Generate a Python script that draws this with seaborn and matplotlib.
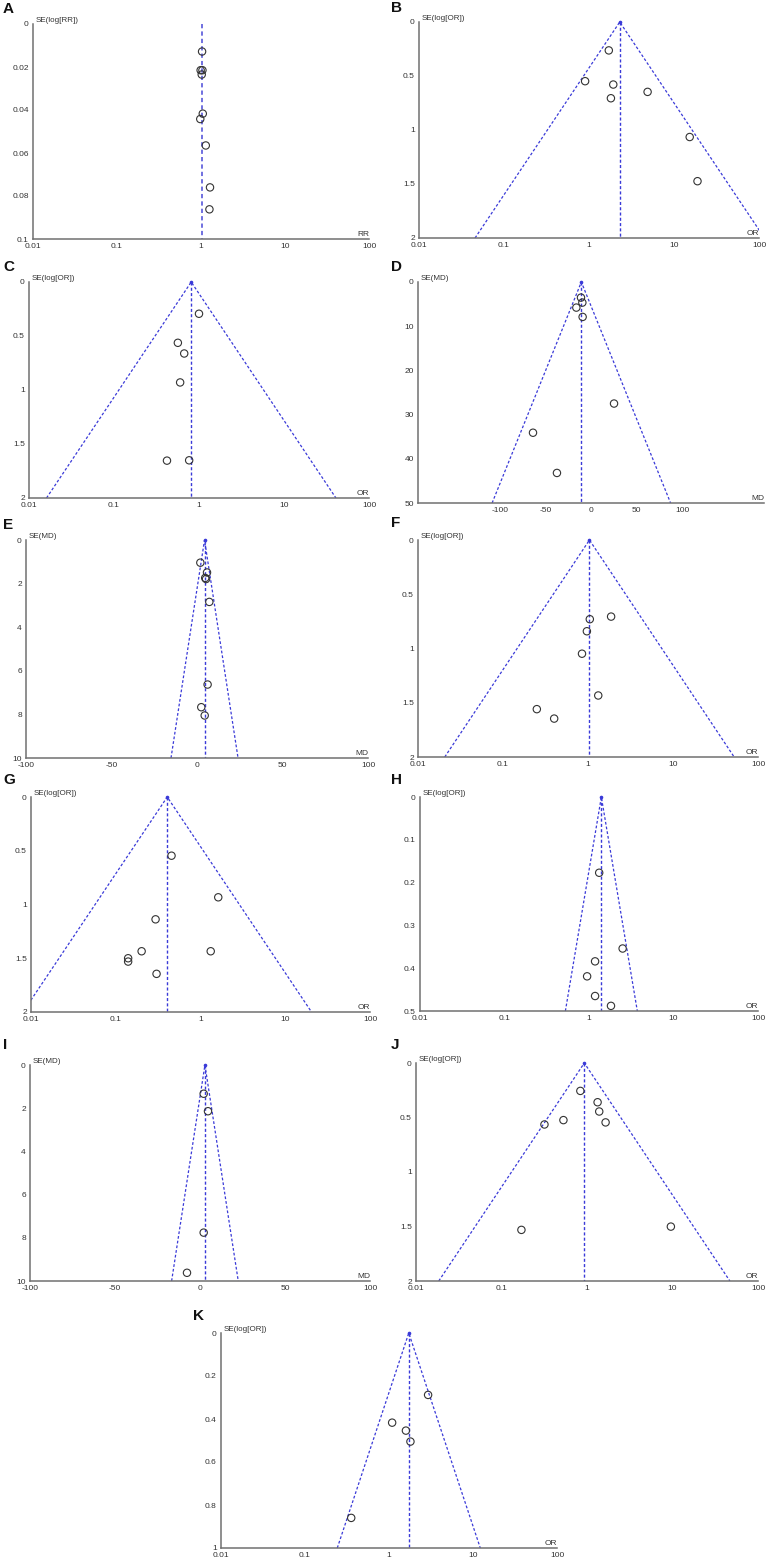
import numpy as np
import matplotlib
matplotlib.use("Agg")
import matplotlib.pyplot as plt
import pandas as pd
import seaborn as sns
from matplotlib.ticker import FixedLocator, FixedFormatter

# ---- data (effect, standard error) ----
a_eff = [1.03, 0.99, 1.04, 1.02, 1.05, 0.98, 1.14, 1.28, 1.26]
a_se = [0.0128, 0.0215, 0.0215, 0.0235, 0.0417, 0.0442, 0.0565, 0.076, 0.0862]
a_pooled = 1.03

b_eff = [1.71, 0.90, 1.93, 1.81, 4.89, 15.3, 18.9]
b_se = [0.263, 0.548, 0.579, 0.706, 0.647, 1.065, 1.474]
b_pooled = 2.30

c_eff = [1.00, 0.564, 0.67, 0.60, 0.42, 0.766]
c_se = [0.294, 0.563, 0.662, 0.930, 1.654, 1.651]
c_pooled = 0.81

d_eff = [-11.0, -9.5, -16.1, -9.2, 25.3, -63.7, -37.4]
d_se = [3.53, 4.66, 5.79, 7.9, 27.5, 34.1, 43.2]
d_pooled = -10.6

e_eff = [1.95, 5.85, 4.8, 5.3, 7.2, 6.2, 2.5, 4.5]
e_se = [1.04, 1.49, 1.74, 1.79, 2.84, 6.63, 7.67, 8.05]
e_pooled = 4.4

f_eff = [1.05, 1.87, 0.97, 0.85, 1.32, 0.25, 0.40]
f_se = [0.730, 0.706, 0.841, 1.048, 1.433, 1.559, 1.646]
f_pooled = 1.04

g_eff = [0.455, 1.62, 0.295, 0.202, 1.32, 0.140, 0.140, 0.303]
g_se = [0.546, 0.933, 1.138, 1.435, 1.435, 1.500, 1.531, 1.645]
g_pooled = 0.405

h_eff = [1.32, 2.50, 1.18, 0.95, 1.18, 1.82]
h_se = [0.177, 0.354, 0.384, 0.419, 0.465, 0.488]
h_pooled = 1.40

i_eff = [2.16, 4.7, 2.16, -7.65]
i_se = [1.33, 2.14, 7.76, 9.62]
i_pooled = 2.9

j_eff = [0.836, 1.33, 1.39, 1.65, 0.53, 0.318, 0.171, 9.57]
j_se = [0.256, 0.360, 0.445, 0.545, 0.524, 0.564, 1.531, 1.501]
j_pooled = 0.93

k_eff = [2.92, 1.09, 1.59, 1.80, 0.355]
k_se = [0.288, 0.417, 0.454, 0.505, 0.860]
k_pooled = 1.72

log_ticks = [0.01, 0.1, 1, 10, 100]
log_labels = ["0.01", "0.1", "1", "10", "100"]

BLUE = "#3a3ad8"
AXC = "#707070"
TXT = "#333333"

sns.set_style("white")
plt.rcParams["font.family"] = ["Liberation Sans", "DejaVu Sans"]
fig = plt.figure(figsize=(7.67, 15.6), dpi=100)
W, H = 767.0, 1560.0


def make_ax(x0, x1, y0, y1):
    return fig.add_axes([x0 / W, 1 - y1 / H, (x1 - x0) / W, (y1 - y0) / H])


def funnel(ax, letter, lx, ly, eff, se, pooled, ymax, yticks, ylab, xlab,
           ratio=True, xlim=None, xticks=None, draw_funnel=True, vcolor=BLUE, vlw=1.0):
    df = pd.DataFrame({"eff": eff, "se": se})
    if ratio:
        ax.set_xscale("log")
        ax.set_xlim(0.01, 100)
        lo = pooled * np.exp(-1.96 * ymax)
        hi = pooled * np.exp(1.96 * ymax)
    else:
        ax.set_xlim(*xlim)
        lo = pooled - 1.96 * ymax
        hi = pooled + 1.96 * ymax
    ax.set_ylim(ymax, 0)
    if draw_funnel:
        ax.plot([lo, pooled, hi], [ymax, 0, ymax], ls=(0, (2.2, 1.6)), color=BLUE, lw=0.9, zorder=2)
        ax.plot([pooled], [0], marker="o", ms=1.6, color=BLUE, zorder=3, clip_on=False)
    ax.plot([pooled, pooled], [0, ymax], ls=(0, (2.2, 1.6)), color=vcolor, lw=vlw, zorder=2)
    sns.scatterplot(data=df, x="eff", y="se", ax=ax, marker="o", s=28,
                    facecolor="none", edgecolor="#333333", linewidth=0.8, zorder=4)
    # axes styling (RevMan look)
    for side in ("top", "right"):
        ax.spines[side].set_visible(False)
    for side in ("left", "bottom"):
        ax.spines[side].set_color(AXC)
        ax.spines[side].set_linewidth(1.1)
    ax.yaxis.set_major_locator(FixedLocator(yticks))
    ax.yaxis.set_major_formatter(FixedFormatter([f"{t:g}" for t in yticks]))
    if ratio:
        ax.xaxis.set_major_locator(FixedLocator(log_ticks))
        ax.xaxis.set_major_formatter(FixedFormatter(log_labels))
        ax.xaxis.set_minor_locator(FixedLocator([]))
    else:
        ax.xaxis.set_major_locator(FixedLocator(xticks))
        ax.xaxis.set_major_formatter(FixedFormatter([f"{t:g}" for t in xticks]))
    ax.tick_params(axis="both", which="major", direction="inout", length=4, width=0.8,
                   color=AXC, labelsize=6, labelcolor=TXT, pad=1)
    ax.set_xlabel("")
    ax.set_ylabel("")
    ax.text(0.008, 1.0, ylab, transform=ax.transAxes, fontsize=5.8, color=TXT,
            ha="left", va="bottom")
    ax.text(1.0, 0.006, xlab, transform=ax.transAxes, fontsize=6, color=TXT,
            ha="right", va="bottom")
    fig.text(lx / W, 1 - ly / H, letter, fontsize=11, fontweight="bold",
             color="#111111", ha="left", va="center")


ax = make_ax(33, 369, 24, 239)
funnel(ax, "A", 3, 9, a_eff, a_se, a_pooled, 0.1, [0, 0.02, 0.04, 0.06, 0.08, 0.1],
       "SE(log[RR])", "RR", draw_funnel=False, vcolor="#7070e0", vlw=1.4)

ax = make_ax(419, 759, 22, 238)
funnel(ax, "B", 391, 8, b_eff, b_se, b_pooled, 2, [0, 0.5, 1, 1.5, 2], "SE(log[OR])", "OR")

ax = make_ax(29, 369, 282, 498)
funnel(ax, "C", 3, 267, c_eff, c_se, c_pooled, 2, [0, 0.5, 1, 1.5, 2], "SE(log[OR])", "OR")

ax = make_ax(418, 764, 282, 503)
funnel(ax, "D", 391, 267, d_eff, d_se, d_pooled, 50, [0, 10, 20, 30, 40, 50], "SE(MD)", "MD",
       ratio=False, xlim=(-190, 190), xticks=[-100, -50, 0, 50, 100])

ax = make_ax(26, 368, 540, 758)
funnel(ax, "E", 3, 525, e_eff, e_se, e_pooled, 10, [0, 2, 4, 6, 8, 10], "SE(MD)", "MD",
       ratio=False, xlim=(-100, 100), xticks=[-100, -50, 0, 50, 100])

ax = make_ax(418, 758, 540, 757)
funnel(ax, "F", 391, 523, f_eff, f_se, f_pooled, 2, [0, 0.5, 1, 1.5, 2], "SE(log[OR])", "OR")

ax = make_ax(31, 370, 797, 1012)
funnel(ax, "G", 3, 780, g_eff, g_se, g_pooled, 2, [0, 0.5, 1, 1.5, 2], "SE(log[OR])", "OR")

ax = make_ax(420, 758, 797, 1011)
funnel(ax, "H", 391, 780, h_eff, h_se, h_pooled, 0.5, [0, 0.1, 0.2, 0.3, 0.4, 0.5],
       "SE(log[OR])", "OR")

ax = make_ax(30, 370, 1065, 1281)
funnel(ax, "I", 3, 1045, i_eff, i_se, i_pooled, 10, [0, 2, 4, 6, 8, 10], "SE(MD)", "MD",
       ratio=False, xlim=(-100, 100), xticks=[-100, -50, 0, 50, 100])

ax = make_ax(416, 758, 1063, 1281)
funnel(ax, "J", 391, 1045, j_eff, j_se, j_pooled, 2, [0, 0.5, 1, 1.5, 2], "SE(log[OR])", "OR")

ax = make_ax(221, 557, 1333, 1548)
funnel(ax, "K", 193, 1316, k_eff, k_se, k_pooled, 1, [0, 0.2, 0.4, 0.6, 0.8, 1],
       "SE(log[OR])", "OR")

fig.savefig("out.png", dpi=100, facecolor="white")
